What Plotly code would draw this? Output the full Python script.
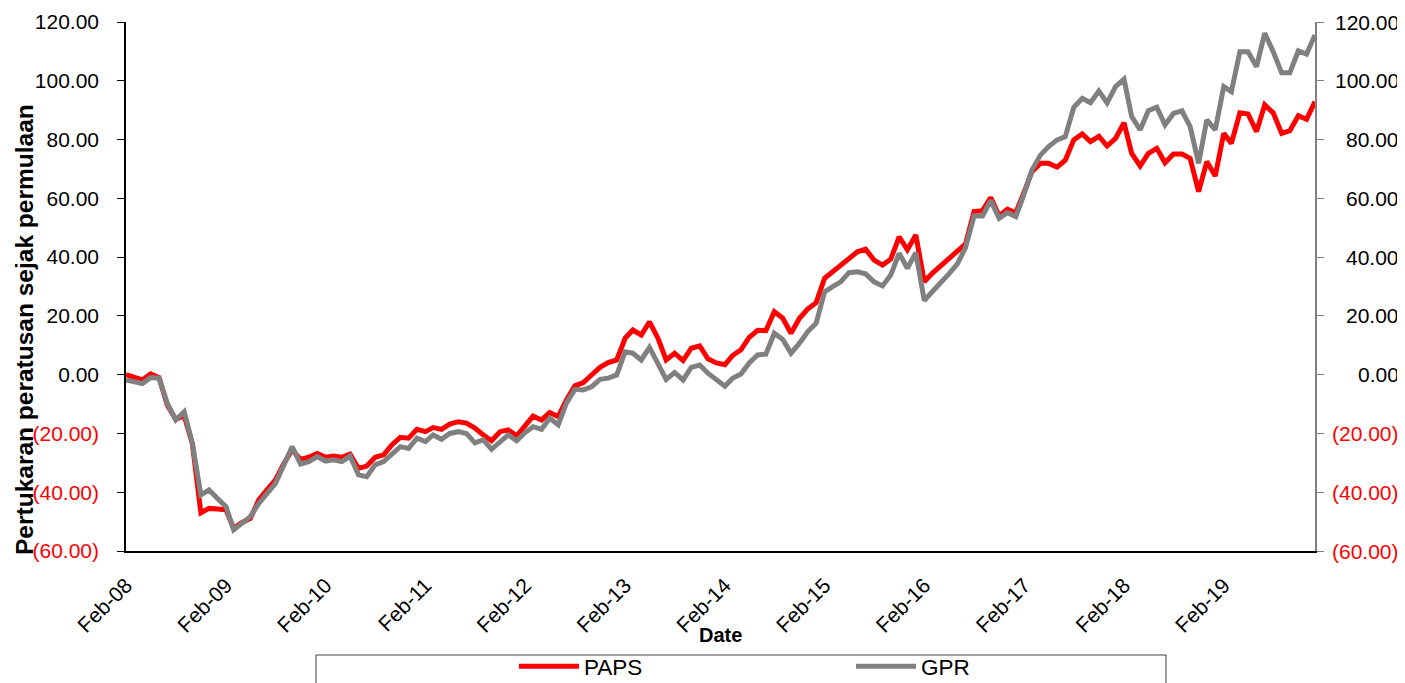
import pandas as pd
import plotly.graph_objects as go

# ---- data (monthly, Feb-08 .. Jan-20) ----
paps = [0.0, -1.0, -1.8, 0.3, -1.0, -10.3, -15.2, -14.0, -23.5, -47.0, -45.5, -45.7,
        -46.0, -52.3, -50.3, -48.9, -42.6, -39.2, -35.8, -30.2, -25.6, -28.8, -28.1, -26.8,
        -28.1, -27.7, -28.1, -27.0, -31.9, -31.1, -28.1, -27.3, -23.9, -21.3, -21.6, -18.6,
        -19.4, -18.0, -18.6, -16.8, -16.0, -16.5, -18.2, -20.5, -22.5, -19.4, -18.8, -20.8,
        -17.6, -14.1, -15.4, -12.9, -14.3, -8.6, -3.8, -2.7, -0.1, 2.5, 4.1, 5.0,
        12.4, 15.2, 13.5, 18.0, 12.4, 5.0, 7.3, 4.8, 9.0, 9.8, 5.4, 4.0,
        3.4, 6.5, 8.5, 12.7, 15.1, 15.0, 21.4, 19.2, 14.1, 19.2, 22.3, 24.5,
        32.8, 35.0, 37.0, 39.3, 41.8, 42.7, 39.0, 37.3, 39.3, 46.9, 42.5, 47.5,
        31.6, 34.5, 37.0, 39.6, 42.2, 44.5, 55.5, 55.8, 60.3, 54.0, 56.3, 55.1,
        62.3, 69.1, 71.9, 71.9, 70.6, 73.0, 79.9, 81.9, 79.3, 81.1, 77.8, 80.4,
        85.7, 75.3, 71.0, 75.3, 77.0, 72.1, 75.1, 75.1, 73.6, 62.3, 72.5, 67.6,
        82.1, 78.7, 89.1, 88.7, 82.7, 91.8, 89.1, 82.1, 83.0, 88.1, 86.9, 92.9]

gpr = [-1.8, -2.5, -3.0, -1.0, -1.2, -9.7, -15.4, -12.6, -23.4, -40.9, -39.2, -42.1,
       -44.9, -52.8, -50.3, -48.3, -43.8, -40.4, -37.0, -30.7, -24.5, -30.4, -29.6, -27.9,
       -29.4, -29.0, -29.6, -27.7, -34.1, -34.7, -30.7, -29.6, -26.8, -24.5, -25.1, -21.6,
       -22.8, -20.5, -22.0, -20.0, -19.4, -20.0, -23.2, -22.2, -25.4, -22.8, -20.5, -22.5,
       -19.7, -17.7, -18.6, -14.8, -17.1, -9.7, -5.0, -5.2, -4.1, -1.6, -1.2, -0.1,
       7.8, 7.3, 5.0, 9.3, 3.9, -1.6, 0.7, -1.8, 2.5, 3.3, 0.5, -1.8,
       -3.9, -1.2, 0.2, 4.0, 6.7, 7.0, 14.1, 12.0, 7.3, 10.7, 14.6, 17.5,
       28.2, 29.9, 31.6, 34.7, 35.0, 34.3, 31.6, 30.2, 33.9, 41.3, 36.2, 41.5,
       25.2, 28.2, 31.1, 34.3, 37.7, 43.3, 54.0, 54.0, 59.2, 53.2, 55.1, 53.8,
       61.7, 69.6, 74.7, 77.6, 79.9, 81.0, 91.0, 94.0, 92.5, 96.5, 92.5, 98.0,
       100.5, 87.8, 83.3, 89.8, 91.0, 85.0, 88.9, 89.8, 84.4, 71.9, 86.7, 83.3,
       98.0, 96.3, 109.9, 109.9, 104.8, 116.2, 109.9, 102.7, 102.7, 110.2, 109.1, 115.6]

tick_labels = ["Feb-08", "Feb-09", "Feb-10", "Feb-11", "Feb-12", "Feb-13",
               "Feb-14", "Feb-15", "Feb-16", "Feb-17", "Feb-18", "Feb-19"]
y_ticks = [-60, -40, -20, 0, 20, 40, 60, 80, 100, 120]

months = pd.date_range("2008-02-01", periods=len(paps), freq="MS")


def fmt(v):
    if v < 0:
        return "<span style='color:#FF0000'>(%.2f)</span>" % abs(v)
    return "%.2f" % v


y_text = [fmt(v) for v in y_ticks]

FONT = "Liberation Sans, Arial, sans-serif"

fig = go.Figure()
fig.add_trace(go.Scatter(x=months, y=paps, name="PAPS", mode="lines",
                         line=dict(color="#FF0000", width=5)))
fig.add_trace(go.Scatter(x=months, y=gpr, name="GPR", mode="lines", yaxis="y2",
                         line=dict(color="#808080", width=5)))

# page body has an 8px margin: work in screen pixels and convert
OFF = 8
W, H = 1405 - OFF, 683 - OFF
PL, PR, PT, PB = 126, 1315, 22, 551          # plot area in screen pixels
L, R, T, B = PL - OFF, W - (PR - OFF), PT - OFF, H - (PB - OFF)
pw = PR - PL
ph = PB - PT


def px_x(sx):
    return (sx - PL) / pw


def px_y(sy):
    return (PB - sy) / ph


# right-axis tick labels (right-aligned, as in the reference)
right_labels = [dict(text=t, xref="paper", yref="y2", x=px_x(1401), y=v,
                     xanchor="right", yanchor="middle", showarrow=False,
                     font=dict(family=FONT, size=21, color="black"))
                for v, t in zip(y_ticks, y_text)]

fig.update_layout(
    width=W, height=H, autosize=False,
    margin=dict(l=L, r=R, t=T, b=B, autoexpand=False),
    paper_bgcolor="white", plot_bgcolor="white",
    font=dict(family=FONT, size=21, color="black"),
    showlegend=True,
    legend=dict(orientation="h", x=px_x(514), y=px_y(645), xanchor="left", yanchor="top",
                bgcolor="rgba(0,0,0,0)", borderwidth=0,
                font=dict(family=FONT, size=22.5, color="black"),
                entrywidth=262, entrywidthmode="pixels", itemwidth=60),
    xaxis=dict(type="date", range=[months[0], months[-1]], automargin=False,
               tickvals=list(months[::12]), ticktext=tick_labels,
               tickangle=-45, ticks="", showgrid=False, zeroline=False,
               showline=True, linecolor="black", linewidth=1.5, ticklabelstandoff=12,
               tickfont=dict(family=FONT, size=21, color="black")),
    yaxis=dict(range=[-60, 120], tickvals=y_ticks, ticktext=y_text, automargin=False,
               ticks="outside", ticklen=7, tickcolor="black", tickwidth=1,
               showgrid=False, zeroline=False, showline=True, linecolor="black",
               linewidth=1.5, ticklabelstandoff=14,
               tickfont=dict(family=FONT, size=21, color="black")),
    yaxis2=dict(range=[-60, 120], tickvals=y_ticks, automargin=False,
                overlaying="y", side="right", showticklabels=False,
                ticks="outside", ticklen=7, tickcolor="#808080", tickwidth=1,
                showgrid=False, zeroline=False, showline=True, linecolor="#808080",
                linewidth=2),
    shapes=[dict(type="rect", xref="paper", yref="paper",
                 x0=px_x(316), x1=px_x(1166), y0=px_y(655), y1=px_y(700),
                 line=dict(color="#404040", width=1), fillcolor="rgba(0,0,0,0)",
                 layer="below")],
    annotations=[
        dict(text="<b>Pertukaran peratusan sejak permulaan</b>", xref="paper", yref="paper",
             x=px_x(24), y=px_y(330), textangle=-90, showarrow=False,
             xanchor="center", yanchor="middle",
             font=dict(family=FONT, size=24.5, color="black")),
        dict(text="<b>Date</b>", xref="paper", yref="paper",
             x=px_x(720), y=px_y(635), showarrow=False,
             xanchor="center", yanchor="middle",
             font=dict(family=FONT, size=20, color="black")),
    ] + right_labels,
)

fig.write_html("out.html")
